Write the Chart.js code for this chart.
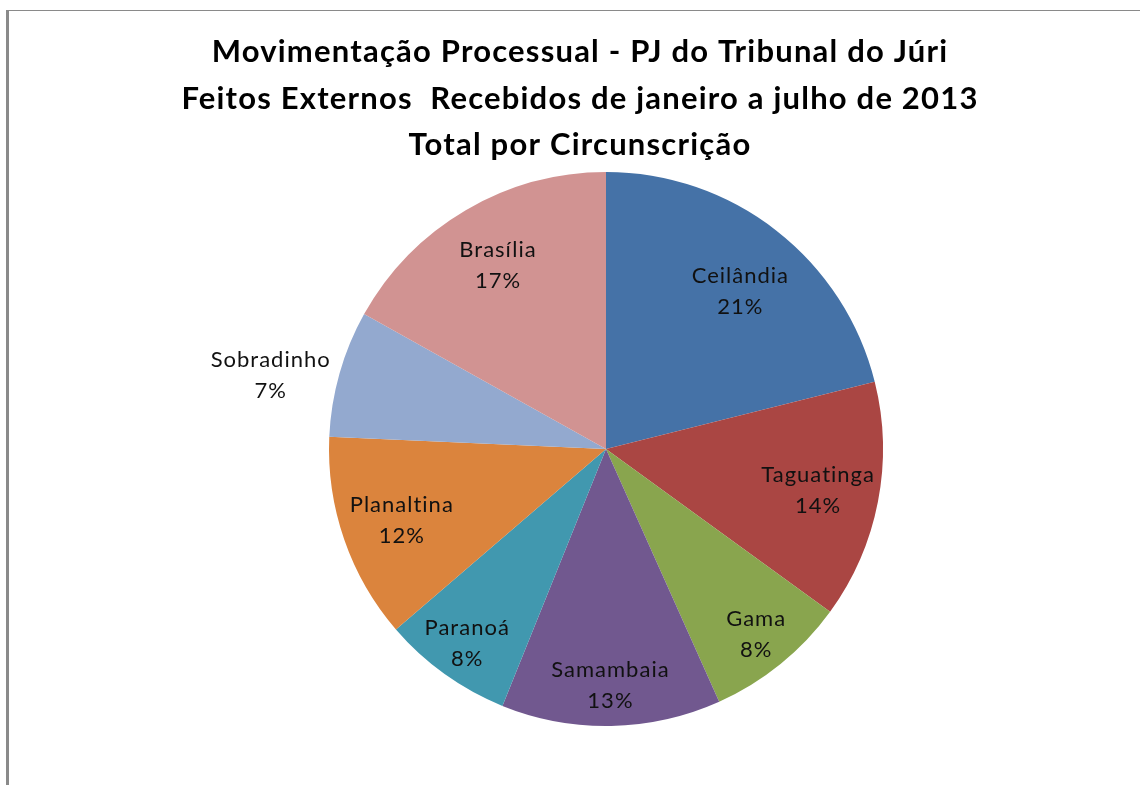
<!DOCTYPE html>
<html>
<head>
<meta charset="utf-8">
<script src="https://cdn.jsdelivr.net/npm/chart.js"></script>
<style>
  html, body { margin: 0; padding: 0; background: #fff; }
  #wrap { position: relative; width: 1140px; height: 785px; }
  #frame {
    position: absolute; left: 6px; top: 10px; right: 0; bottom: 0;
    border-left: 3px solid #8a8a8a; border-top: 1px solid #8a8a8a;
    pointer-events: none;
  }
</style>
</head>
<body>
<div id="wrap">
  <canvas id="pie" width="1140" height="785"></canvas>
  <div id="frame"></div>
</div>
<script>
// share of external cases received, Jan-Jul 2013 (percent)
var circunscricoes = ["Ceilândia", "Taguatinga", "Gama", "Samambaia", "Paranoá", "Planaltina", "Sobradinho", "Brasília"];
var percentuais = [21.1, 13.9, 8.3, 12.8, 7.6, 12.0, 7.4, 16.9];
var titulo = [
    "Movimentação Processual - PJ do Tribunal do Júri",
    "Feitos Externos  Recebidos de janeiro a julho de 2013",
    "Total por Circunscrição"
];

var cores = ["#4572A7", "#AA4643", "#89A54E", "#71588F", "#4198AF", "#DB843D", "#93A9CF", "#D19392"];

// title drawn by hand so it can sit a bit left of the pie centre, like the original
var titlePlugin = {
    id: "titleLines",
    afterDraw: function (chart) {
        var ctx = chart.ctx;
        ctx.save();
        ctx.fillStyle = "#000";
        ctx.font = "bold 31px Lato";
        ctx.letterSpacing = "1.2px";
        ctx.textAlign = "center";
        ctx.textBaseline = "middle";
        var ys = [52, 99, 145];
        titulo.forEach(function (t, i) {
            ctx.fillText(t, 580, ys[i]);
        });
        ctx.restore();
    }
};

// name + percent labels, placed along each slice's mid angle
// offsets: r = fraction of radius, a = angle nudge in degrees
var labelPlugin = {
    id: "sliceLabels",
    afterDatasetsDraw: function (chart, args, opts) {
        var ctx = chart.ctx;
        var meta = chart.getDatasetMeta(0);
        var ds = chart.data.datasets[0].data;
        var total = ds.reduce(function (a, b) { return a + b; }, 0);
        ctx.save();
        ctx.fillStyle = "#111";
        ctx.font = "22px Lato";
        ctx.letterSpacing = "1px";
        ctx.textAlign = "center";
        ctx.textBaseline = "middle";
        meta.data.forEach(function (arc, i) {
            var p = arc.getProps(["x", "y", "startAngle", "endAngle", "outerRadius"], true);
            var o = opts.offsets[i];
            var mid = (p.startAngle + p.endAngle) / 2 + o.a * Math.PI / 180;
            var r = p.outerRadius * o.r;
            var cx = p.x + Math.cos(mid) * r;
            var cy = p.y + Math.sin(mid) * r;
            var pct = Math.round(ds[i] / total * 100) + "%";
            ctx.fillText(chart.data.labels[i], cx, cy - 15);
            ctx.fillText(pct, cx, cy + 16);
        });
        ctx.restore();
    }
};

var ctx = document.getElementById("pie").getContext("2d");

var pieChart = new Chart(ctx, {
    type: "pie",
    data: {
        labels: circunscricoes,
        datasets: [{
            data: percentuais,
            backgroundColor: cores,
            borderWidth: 0
        }]
    },
    options: {
        responsive: false,
        animation: false,
        layout: {
            padding: { top: 172, bottom: 59, left: 329, right: 257 }
        },
        plugins: {
            legend: { display: false },
            title: { display: false },
            tooltip: { enabled: false },
            sliceLabels: {
                offsets: [
                    { r: 0.75, a: 2.3 }, { r: 0.78, a: 0 }, { r: 0.86, a: 0 }, { r: 0.85, a: 0 },
                    { r: 0.86, a: 0 }, { r: 0.78, a: 0 }, { r: 1.24, a: -3.3 }, { r: 0.77, a: 0 }
                ]
            }
        }
    },
    plugins: [titlePlugin, labelPlugin]
});
</script>
</body>
</html>
